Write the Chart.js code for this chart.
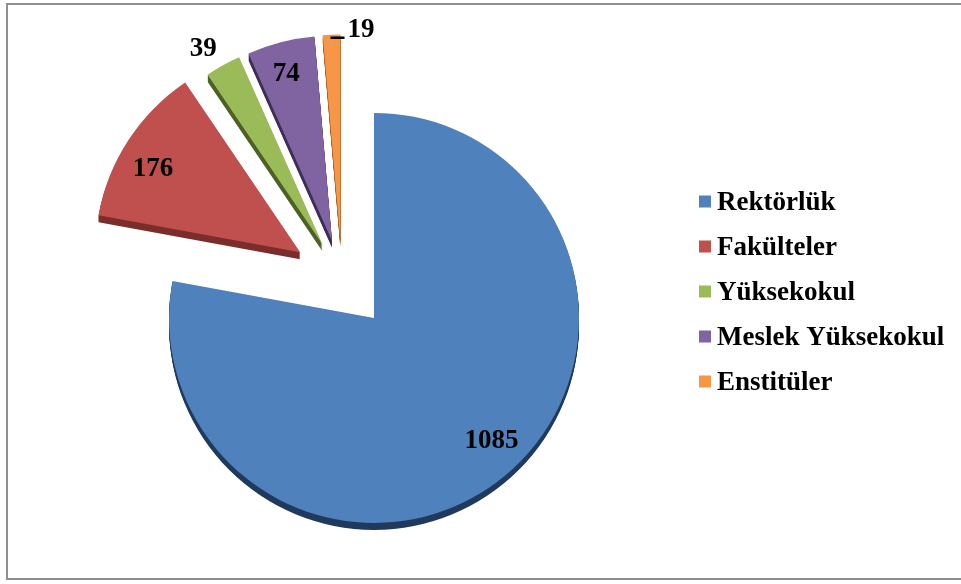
<!DOCTYPE html>
<html>
<head>
<meta charset="utf-8">
<script src="https://cdn.jsdelivr.net/npm/chart.js@4.4.0/dist/chart.umd.min.js"></script>
<style>
  html, body { margin: 0; padding: 0; background: #fff; overflow: hidden; }
  #wrap { position: relative; width: 961px; height: 584px; overflow: hidden; }
  #frame { position: absolute; left: 6px; top: 3px; width: 1000px; height: 577px; border: 2px solid #8f8f8f; box-sizing: border-box; }
  #chartBox { position: absolute; left: 0; top: 0; width: 961px; height: 584px; }
</style>
</head>
<body>
<div id="wrap">
  <div id="frame"></div>
  <div id="chartBox"><canvas id="pieChart"></canvas></div>
</div>
<script>
const labels = ['Rektörlük', 'Fakülteler', 'Yüksekokul', 'Meslek Yüksekokul', 'Enstitüler'];
const values = [1085, 176, 39, 74, 19];
const colors = ['#4f81bd', '#c0504d', '#9bbb59', '#8064a2', '#f79646'];
const sideColors = ['#203a5e', '#7b2d2b', '#4c6123', '#3e2d57', '#a85a1c'];
const explode = [50, 50, 40, 40, 40];                 // how far each slice is pulled out, px
const labelDist = [0.823, 0.828, 1.127, 0.855, 1.0];  // value label position, share of radius
const labelTurn = [-4.4, -3.2, -2.0, -0.65, 0];       // small angle nudge for the label, degrees
const leader = [false, false, false, false, true];

const depth = 7;
const font = '"Liberation Serif", "Times New Roman", serif';

// pull every slice out along its middle angle (chart.js offset also grows the radius, so move the arcs instead)
const explodePlugin = {
  id: 'explode',
  afterDatasetsUpdate(chart) {
    chart.getDatasetMeta(0).data.forEach((arc, i) => {
      const mid = (arc.startAngle + arc.endAngle) / 2;
      arc.x += Math.cos(mid) * explode[i];
      arc.y += Math.sin(mid) * explode[i];
    });
  }
};

const depthPlugin = {
  id: 'depth',
  beforeDatasetsDraw(chart) {
    const ctx = chart.ctx;
    chart.getDatasetMeta(0).data.forEach((arc, i) => {
      const { x, y, startAngle, endAngle, outerRadius } = arc;
      ctx.save();
      ctx.fillStyle = sideColors[i];
      for (let d = 1; d <= depth; d++) {
        ctx.beginPath();
        ctx.moveTo(x, y + d);
        ctx.arc(x, y + d, outerRadius, startAngle, endAngle);
        ctx.closePath();
        ctx.fill();
      }
      ctx.restore();
    });
  }
};

const valueLabels = {
  id: 'valueLabels',
  afterDatasetsDraw(chart) {
    const ctx = chart.ctx;
    ctx.save();
    ctx.font = 'bold 27px ' + font;
    ctx.fillStyle = '#000';
    ctx.textBaseline = 'alphabetic';
    chart.getDatasetMeta(0).data.forEach((arc, i) => {
      const { x, y, startAngle, endAngle, outerRadius } = arc;
      const ang = (startAngle + endAngle) / 2 + labelTurn[i] * Math.PI / 180;
      const r = outerRadius * labelDist[i];
      const px = x + Math.cos(ang) * r;
      const py = y + Math.sin(ang) * r;
      if (leader[i]) {
        ctx.strokeStyle = '#000';
        ctx.lineWidth = 2.5;
        ctx.beginPath();
        ctx.moveTo(px - 1, py + 3);
        ctx.lineTo(px + 13, py + 3);
        ctx.stroke();
        ctx.textAlign = 'left';
        ctx.fillText(String(values[i]), px + 16, py + 2);
      } else {
        ctx.textAlign = 'center';
        ctx.fillText(String(values[i]), px, py + 9);
      }
    });
    ctx.restore();
  }
};

const sideLegend = {
  id: 'sideLegend',
  afterDraw(chart) {
    const ctx = chart.ctx;
    const left = 699, top = 201.5, gap = 45;
    ctx.save();
    ctx.font = 'bold 27px ' + font;
    ctx.textAlign = 'left';
    ctx.textBaseline = 'alphabetic';
    labels.forEach((lab, i) => {
      const cy = top + i * gap;
      ctx.fillStyle = colors[i];
      ctx.fillRect(left, cy - 6, 12, 12);
      ctx.fillStyle = '#000';
      ctx.fillText(lab, left + 18, cy + 8.5);
    });
    ctx.restore();
  }
};

new Chart(document.getElementById('pieChart'), {
  type: 'pie',
  data: {
    labels: labels,
    datasets: [{
      data: values,
      backgroundColor: colors,
      borderWidth: 0,
      hoverOffset: 0
    }]
  },
  options: {
    responsive: true,
    maintainAspectRatio: false,
    animation: false,
    radius: 205,
    layout: { padding: { left: 0, right: 277, top: 0, bottom: 25 } },
    plugins: {
      legend: { display: false },
      tooltip: { enabled: false }
    }
  },
  plugins: [explodePlugin, depthPlugin, valueLabels, sideLegend]
});
</script>
</body>
</html>
